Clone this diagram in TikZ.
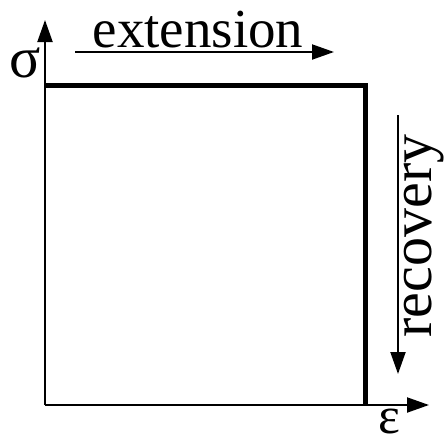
\documentclass[tikz,border=0pt]{standalone}
\usepackage{fontspec}
\setmainfont{Liberation Serif}
\usetikzlibrary{arrows.meta}
\begin{document}
\begin{tikzpicture}[x=1pt,y=-1pt,
  axis/.style={line width=2pt,-{Triangle[length=22pt,width=15pt]}},
  curve/.style={line width=5pt},
  lbl/.style={inner sep=0pt,anchor=base,font=\fontsize{55}{60}\selectfont}]
\useasboundingbox (0,0) rectangle (444,445);
\coordinate (O) at (45,405);
\coordinate (ytip) at (45,20);
\coordinate (xtip) at (429,405);
\draw[axis] (O) -- (ytip);
\draw[axis] (O) -- (xtip);
\coordinate (A) at (45,85);
\coordinate (B) at (365,85);
\coordinate (C) at (365,405);
\draw[curve,line join=miter] (A) -- (B) -- (C);
\coordinate (e1) at (75,52);
\coordinate (e2) at (334,52);
\draw[axis] (e1) -- (e2);
\coordinate (r1) at (398,115);
\coordinate (r2) at (398,374);
\draw[axis] (r1) -- (r2);
\node[lbl,font=\fontsize{58}{62}\selectfont] (sig) at (25,77) {σ};
\node[lbl,font=\fontsize{52}{56}\selectfont] (eps) at (389,433) {ε};
\node[lbl] (ext) at (198,47) {extension};
\node[lbl,rotate=90,font=\fontsize{58}{62}\selectfont] (rec) at (431,236) {recovery};
\end{tikzpicture}
\end{document}
